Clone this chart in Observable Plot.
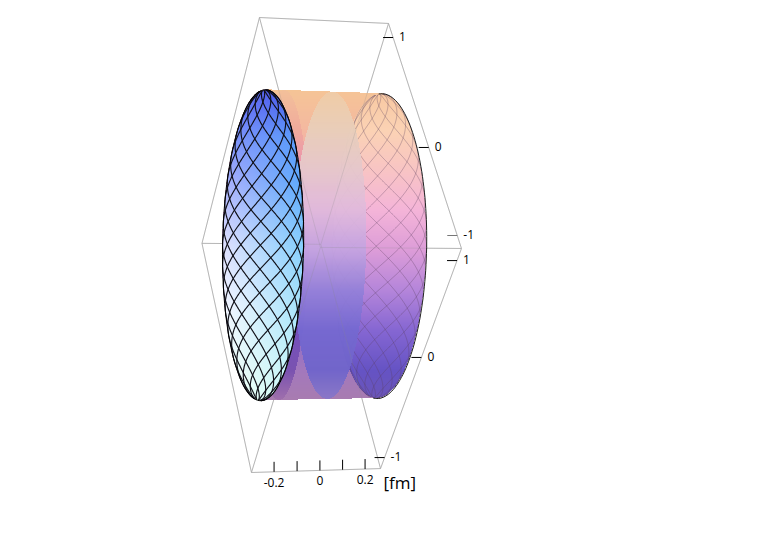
<!DOCTYPE html>
<html><head><meta charset="utf-8">
<script src="https://cdn.jsdelivr.net/npm/d3@7"></script>
<script src="https://cdn.jsdelivr.net/npm/@observablehq/plot@0.6"></script>
<style>html,body{margin:0;padding:0;background:#fff}svg{display:block}</style>
</head><body><div id="chart"></div>
<script>
// ---- values ----
const fmTicks = [-0.2, -0.1, 0, 0.1, 0.2];
const fmTickLabels = ["-0.2", "", "0", "", "0.2"];
const upperLabels = ["1", "0", "-1"];
const upperAt = [-0.863, 0.151, 0.895];   // place along the upper right box edge
const lowerLabels = ["1", "0", "-1"];
const lowerAt = [0.90, 0.06, -0.89];      // place along the lower right box edge
const boxSides = [-1, 1];
const discRadius = 0.965;
const leftEnd = -0.925, rightEnd = 0.87;  // ends of the cylinder along the fm axis
const twist = 195, meshStep = 30;         // mesh of crossing helical lines

// colours down the picture
const rowStops = [90, 130, 170, 210, 250, 290, 330, 370, 400];
const sideColors  = ["#f5c496","#f4b8a0","#efa6ae","#e79cc6","#cb8fd4","#a87cd4","#8e6cc8","#a378bc","#a87cb0"];
const wallColors  = ["#f8c8a0","#fbd2b4","#f8c4c4","#f4b4d8","#dc9cd8","#b485da","#8566d2","#6553c4","#6a55b8"];
const lensColors  = ["#efcba6","#e8ceba","#e5c7cc","#e0b9dc","#c3a2e0","#9480d8","#7568d0","#6f64ca","#8a78c8"];
const bandColors  = ["#f3c09a","#f0aa9c","#ea90b0","#e284c4","#b86cc8","#9058c4","#7450bc","#7a52b0","#a070ac"];
const faceStops   = [1, 0.7, 0.4, 0, -0.4, -1];
const faceLeft    = ["#5a68f4","#7a90fa","#a8b0fc","#dfe0fe","#f2f5ff","#e8fff5"];
const faceRight   = ["#4d55e8","#5c9bfb","#60aafc","#85cffc","#a8e4fc","#d8fcf8"];

// ---- camera: box coordinates to the picture plane ----
function project([X, Y, Z]) {
  const w = 1 + 0.011 * X - 0.0476 * Y - 0.0484 * Z;
  return [(320.2 + 68.05 * X + 14.9 * Y + 18.65 * Z) / w,
          (245.2 + 3.2 * X + 101.85 * Y - 123.35 * Z) / w];
}
const fmToBox = (fm) => 0.05 + 3.53 * fm;
const P = (p) => { const [x, y] = project(p); return {x, y}; };

// box edges
const edges = [];
for (const Y of boxSides) for (const Z of boxSides) edges.push([[-1,Y,Z],[1,Y,Z]]);
for (const X of boxSides) for (const Z of boxSides) edges.push([[X,-1,Z],[X,1,Z]]);
for (const X of boxSides) for (const Y of boxSides) edges.push([[X,Y,-1],[X,Y,1]]);
const edgeLinks = edges.map(([a, b]) => { const p = P(a), q = P(b); return {x1:p.x,y1:p.y,x2:q.x,y2:q.y}; });

// disc points: h across the picture, w up the picture
const disc = (X, h, w, k = 0) => {
  const y = discRadius * (h - w) / Math.SQRT2, z = discRadius * (h + w) / Math.SQRT2;
  return [X + k * (y + z), y, z];
};
const angles = d3.range(0, 360, 2).map((d) => d * Math.PI / 180);
const ring = (X, k = 0) => angles.map((a) => project(disc(X, Math.cos(a), Math.sin(a), k)));
const span = (poly, y) => {
  const xs = [];
  for (let i = 0; i < poly.length; i++) {
    const [a, b] = poly[i], [c, d] = poly[(i + 1) % poly.length];
    if ((b <= y && d > y) || (d <= y && b > y)) xs.push(a + (y - b) / (d - b) * (c - a));
  }
  return xs.length ? [d3.min(xs), d3.max(xs)] : null;
};
const leftRing = ring(leftEnd), rightRing = ring(rightEnd);
const hull = d3.polygonHull([...leftRing, ...rightRing]);
const lensRing = ring(0.11, -0.09);
const bandRing = ring(leftEnd + 0.3, -0.16);

const rows = d3.range(86, 404);
const ramp = (colors) => d3.scaleLinear().domain(rowStops).range(colors).clamp(true);
const layer = (poly, colors) => {
  const c = ramp(colors);
  return rows.flatMap((y) => { const s = span(poly, y + 0.5);
    return s ? [{x1:s[0], x2:s[1], y1:y, y2:y + 1, fill:c(y)}] : []; });
};

// mesh: crossing helical lines through the disc
const offsets = d3.range(-360, 361, meshStep);
const heights = d3.range(-0.995, 1, 0.005);
function mesh(X) {
  const out = [];
  for (const sign of [1, -1]) for (const o of offsets) {
    let run = 0, prevIn = false;
    for (const w of heights) {
      const lon = o + sign * twist * w;
      const ok = Math.abs(lon) <= 90;
      if (ok && !prevIn) run++;
      prevIn = ok;
      if (!ok) continue;
      const h = Math.sqrt(1 - w * w) * Math.sin(lon * Math.PI / 180);
      out.push({...P(disc(X, h, w)), id:`${sign}:${o}:${run}`});
    }
  }
  return out;
}
const leftOutline = [...leftRing, leftRing[0]].map(([x, y]) => ({x, y}));
const rightOutline = d3.range(-90, 91, 2).map((d) => {
  const a = d * Math.PI / 180; return P(disc(rightEnd, Math.cos(a), Math.sin(a)));
});

// face colour
const leftRamp = d3.scaleLinear().domain(faceStops).range(faceLeft).clamp(true);
const rightRamp = d3.scaleLinear().domain(faceStops).range(faceRight).clamp(true);
const yTop = d3.min(leftRing, (d) => d[1]), yBot = d3.max(leftRing, (d) => d[1]);
const faceFill = (x, y) => {
  const s = span(leftRing, y);
  if (!s || x < s[0] || x > s[1]) return null;
  const w = 1 - 2 * (y - yTop) / (yBot - yTop), t = (x - s[0]) / (s[1] - s[0]);
  return d3.interpolateRgb(leftRamp(w), rightRamp(w))(t);
};

// ticks and labels
const upper = upperAt.map((Y, i) => ({...P([1, Y, 1]), label:upperLabels[i]}));
const lower = lowerAt.map((Z, i) => ({...P([1, 1, Z]), label:lowerLabels[i]}));
const bottom = fmTicks.map((fm, i) => ({...P([fmToBox(fm), 1, -1]), label:fmTickLabels[i]}));
const unit = {...P([1, 1, -1]), label:"[fm]"};
const font = "'Open Sans', sans-serif";

const plot = Plot.plot({
  width: 763, height: 545, margin: 0,
  x: {domain: [0, 763], range: [0, 763], axis: null},
  y: {domain: [0, 545], range: [0, 545], axis: null},
  color: {type: "identity"},
  style: {background: "#fff", fontFamily: font},
  marks: [
    Plot.link(edgeLinks, {x1:"x1", y1:"y1", x2:"x2", y2:"y2", stroke:"#c4c4c4", strokeWidth:1}),
    Plot.rect(layer(hull, sideColors), {x1:"x1", x2:"x2", y1:"y1", y2:"y2", fill:"fill", shapeRendering:"crispEdges"}),
    Plot.rect(layer(rightRing, wallColors), {x1:"x1", x2:"x2", y1:"y1", y2:"y2", fill:"fill", shapeRendering:"crispEdges"}),
    Plot.line(mesh(rightEnd), {x:"x", y:"y", z:"id", stroke:"#5a3f5f", strokeOpacity:0.33, strokeWidth:1}),
    Plot.rect(layer(bandRing, bandColors), {x1:"x1", x2:"x2", y1:"y1", y2:"y2", fill:"fill", shapeRendering:"crispEdges"}),
    Plot.rect(layer(lensRing, lensColors), {x1:"x1", x2:"x2", y1:"y1", y2:"y2", fill:"fill", fillOpacity:0.96, shapeRendering:"crispEdges"}),
    Plot.link(edgeLinks, {x1:"x1", y1:"y1", x2:"x2", y2:"y2", stroke:"#8a8a8a", strokeOpacity:0.22, strokeWidth:1}),
    Plot.raster({x1:0, y1:0, x2:763, y2:545, pixelSize:1, fill:faceFill}),
    Plot.line(mesh(leftEnd), {x:"x", y:"y", z:"id", stroke:"#101018", strokeWidth:1.15}),
    Plot.line(leftOutline, {x:"x", y:"y", stroke:"#000", strokeWidth:1}),
    Plot.line(rightOutline, {x:"x", y:"y", stroke:"#222", strokeWidth:1}),
    Plot.link(upper, {x1:(d) => d.x - 10, x2:"x", y1:"y", y2:"y", stroke:(d) => d.label === "-1" ? "#777" : "#000"}),
    Plot.link(lower, {x1:(d) => d.x - 10, x2:"x", y1:"y", y2:"y", stroke:"#000"}),
    Plot.link(bottom, {x1:"x", x2:"x", y1:"y", y2:(d) => d.y - 10, stroke:"#000"}),
    Plot.text(upper, {x:"x", y:"y", text:"label", dx:6, textAnchor:"start", fontSize:12, fill:"#000"}),
    Plot.text(lower, {x:"x", y:"y", text:"label", dx:6, textAnchor:"start", fontSize:12, fill:"#000"}),
    Plot.text(bottom, {x:"x", y:"y", text:"label", dy:11, fontSize:12, fill:"#000"}),
    Plot.text([unit], {x:"x", y:"y", text:"label", dx:3, dy:15, textAnchor:"start", fontSize:17, fill:"#000"})
  ]
});
document.getElementById("chart").append(plot);
</script></body></html>
